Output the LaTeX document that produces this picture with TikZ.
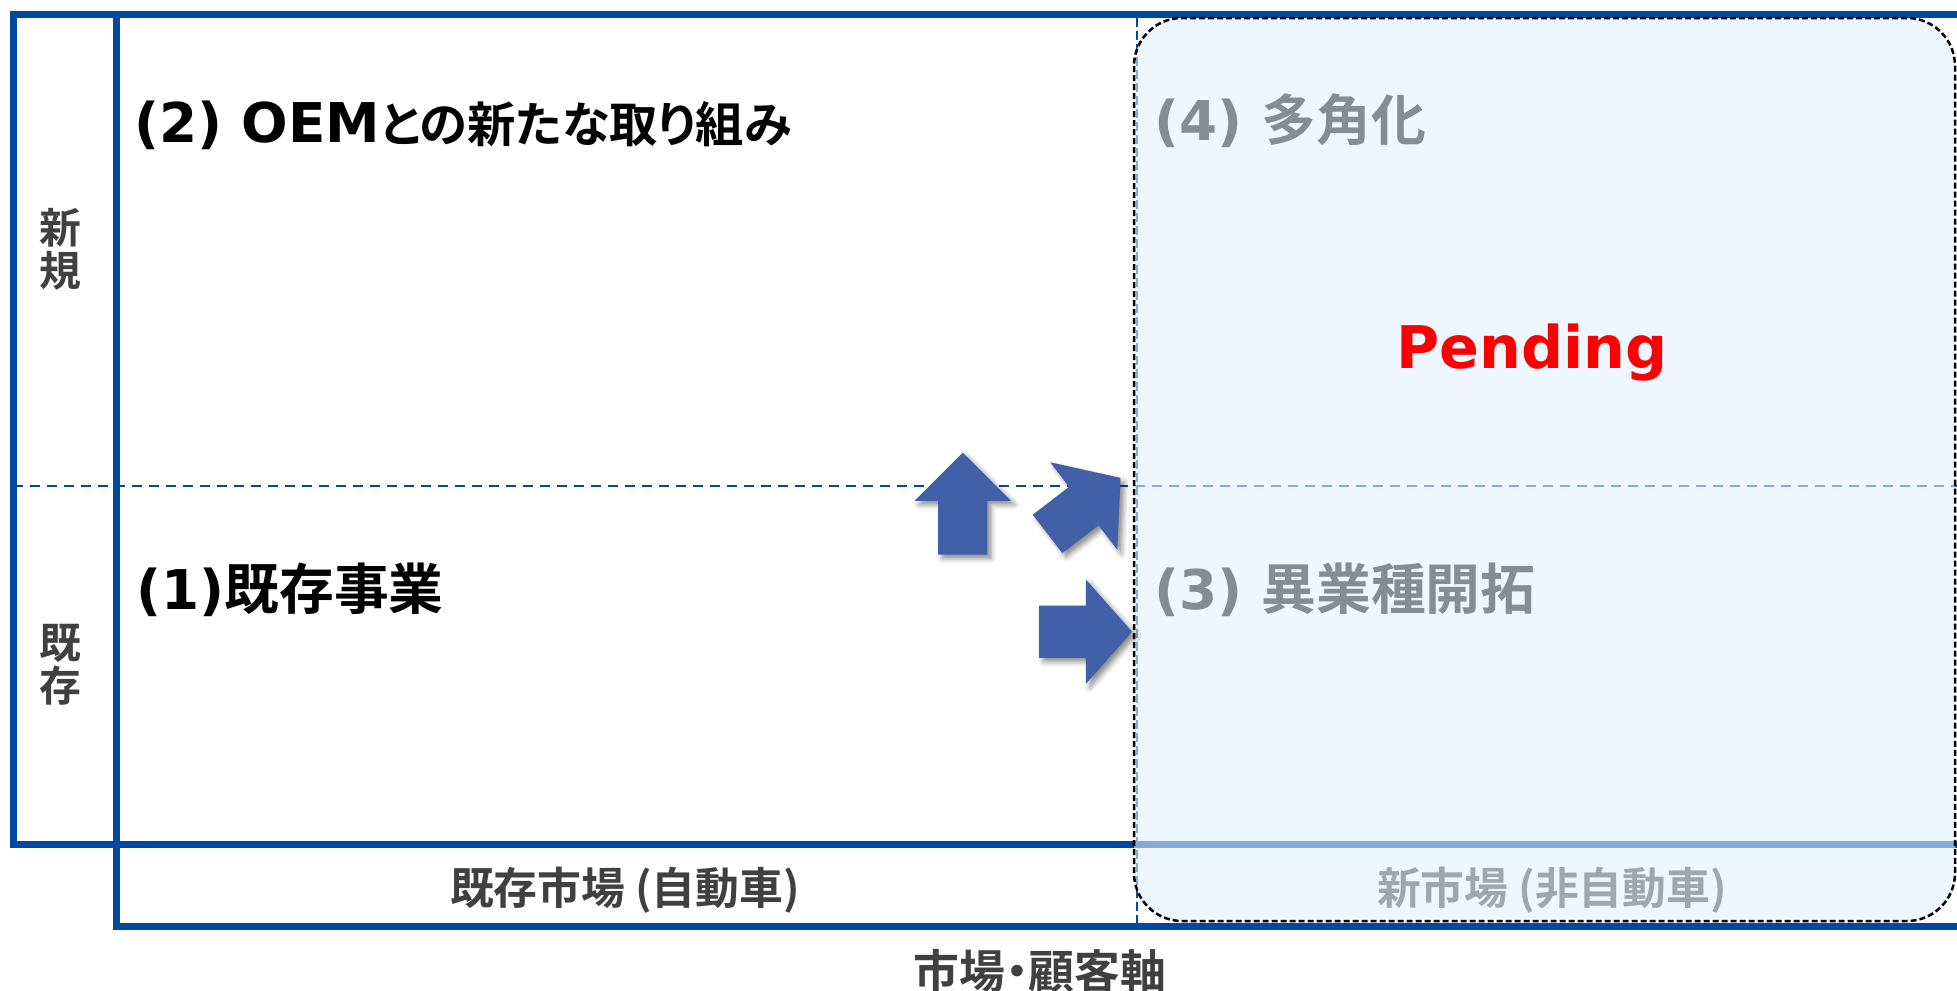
\documentclass[tikz,border=0pt]{standalone}
\usepackage{fontspec}
\setmainfont{DejaVu Sans}
\newfontfamily\jpfont{Noto Sans CJK JP Bold}[RawFeature=+palt]
\usetikzlibrary{shapes.arrows,shadows.blur}
\definecolor{frameblue}{RGB}{0,72,160}
\definecolor{arrowblue}{RGB}{66,96,168}
\definecolor{paleblue}{RGB}{226,240,255}
\definecolor{labelgray}{RGB}{64,64,64}
\newcommand{\headSize}[0]{\fontsize{55}{60}\selectfont}
\newcommand{\axisSize}[0]{\fontsize{44}{44}\selectfont}
\newcommand{\paleOpacity}[0]{0.584}
\newcommand{\jp}[1]{{\mdseries\jpfont #1}}

\begin{document}
\begin{tikzpicture}[x=1bp, y=-1bp]
  \tikzset{frame/.style={frameblue, line width=7bp, line cap=rect, line join=miter},
    guide/.style={frameblue, line width=2.5bp, dash pattern=on 10bp off 7bp},
    head/.style={anchor=base west, inner sep=0pt, font=\headSize\bfseries},
    side/.style={align=center, inner sep=0pt, text=labelgray, font=\jpfont\fontsize{42}{43}\selectfont},
    axis/.style={inner sep=0pt, text=labelgray, font=\jpfont\axisSize},
    move/.style={single arrow, fill=arrowblue, inner xsep=0pt, anchor=tip,
      blur shadow={shadow xshift=4bp, shadow yshift=-4bp, shadow blur radius=5bp, shadow opacity=45}}}
  \useasboundingbox (0,0) rectangle (1957,990);
  % frame and guides
  \draw[frame] (1957,14) -- (13,14) -- (13,844) -- (1957,844);
  \draw[frame] (116,14) -- (116,926) -- (1957,926);
  \draw[guide] (13,486) -- (1957,486);
  \draw[guide, dash pattern=on 9bp off 4bp] (1137,18) -- (1137,926);
  % quadrants
  \node[head] (OEM-2) at (134,142) {(2) OEM{\fontsize{48.5}{60}\selectfont\jp{との新たな取り組み}}};
  \node[head] (BASE-1) at (136,609) {(1)\jp{既存事業}};
  \node[head] (DIV-4) at (1154,140) {(4) \jp{多角化}};
  \node[head] (IND-3) at (1154,609) {(3) \jp{異業種開拓}};
  % axes
  \node[side] (NEW-Y) at (60,249) {新\\規};
  \node[side] (OLD-Y) at (60,665) {既\\存};
  \node[axis] (OLD-X) at (625,890) {既存市場 (自動車)};
  \node[axis] (NEW-X) at (1552,890) {新市場 (非自動車)};
  \node[axis, font=\jpfont\fontsize{46}{46}\selectfont] (AXIS) at (1040,971) {市場・顧客軸};
  % pending area
  \path[fill=paleblue, fill opacity=\paleOpacity, draw=black, line width=2.5bp,
    dash pattern=on 6bp off 3bp, rounded corners=48bp] (1134,18) rectangle (1955,921);
  \node[anchor=base, inner sep=0pt, text=red, font=\fontsize{59}{60}\selectfont\bfseries] (PEND) at (1532,368) {Pending};
  % moves
  \node[move, rotate=90, minimum height=102bp, inner ysep=24.3bp,
    single arrow head extend=23.7bp, single arrow tip angle=90] (UP-A) at (962.7,452.3) {};
  \node[move, rotate=37.5, minimum height=92bp, inner ysep=24bp,
    single arrow head extend=31bp, single arrow tip angle=100] (DIAG-A) at (1120.7,477.7) {};
  \node[move, minimum height=93bp, inner ysep=26bp,
    single arrow head extend=26bp, single arrow tip angle=97] (RIGHT-A) at (1132.3,631.7) {};
\end{tikzpicture}
\end{document}
